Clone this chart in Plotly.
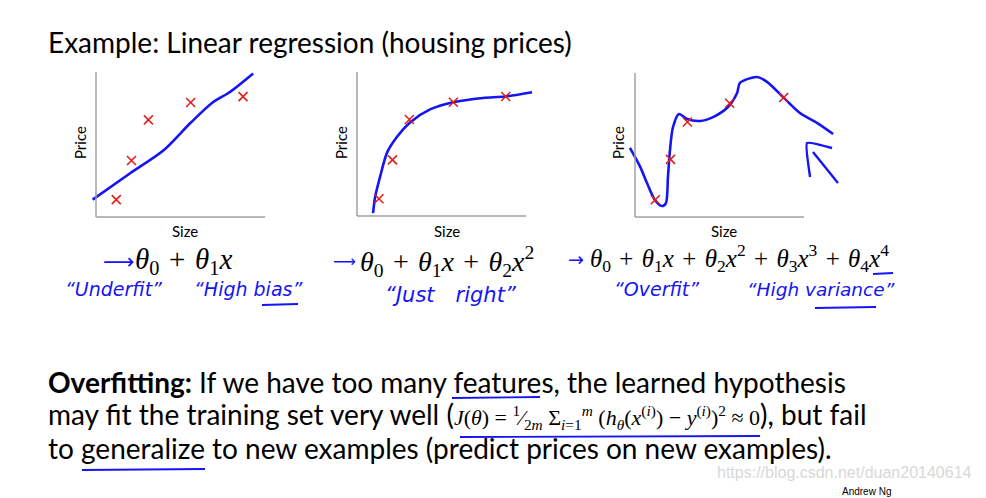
import plotly.graph_objects as go

W, H = 986, 498

# ---------------- data ----------------
# Panel 1: "Underfit"
sizes1 = [12, 21, 31, 56, 87]
prices1 = [12, 39, 67, 79, 83]
fit1_x = [-2, 20, 40, 56, 69, 79, 93]
fit1_y = [12, 30, 46, 65, 79, 86, 99]

# Panel 2: "Just right"
sizes2 = [13, 21, 31, 57, 88]
prices2 = [12, 39, 67, 79, 83]
fit2_x = [9.5, 10.7, 13.6, 17.8, 23.7, 31.4, 43.2, 56.8, 74.6, 87.6, 103.6]
fit2_y = [2, 13, 27, 44, 55, 65, 74, 79, 82, 83, 86]

# Panel 3: "Overfit"
sizes3 = [12, 21, 31, 56, 88]
prices3 = [12, 40, 66, 79, 83]
fit3_x = [-3, 3, 7.1, 11.8, 16, 18.3, 19.5, 20.7, 22.5, 26, 30.8, 38.5, 46.2, 55,
          60.4, 62.1, 72.2, 78.1, 87.6, 97.6, 107.7, 117.2]
fit3_y = [48, 35, 23.6, 11.8, 7.6, 9.7, 27.8, 46.5, 62.5, 71.5, 68.1, 66.7, 69.4, 76.4,
          86.1, 93.1, 97.2, 93.8, 83.3, 72.2, 65.3, 57.6]
arrow_a_x = [116.6, 101.8, 103.6]
arrow_a_y = [47.9, 51.4, 27.8]
arrow_b_x = [105.3, 120.1]
arrow_b_y = [45.1, 23.6]

# Labels
title_text = "Example: Linear regression (housing prices)"
x_label = "Size"
y_label = "Price"

BLUE = "#1414f5"
RED = "#e0201c"
AXIS = "#a0a0a0"
TXT = "Lato"
SERIF = "Liberation Serif"
HAND = "DejaVu Sans"

# panel geometry: origin pixel (ox, oy), px per unit (sx, sy)
panels = [(96, 217, 1.69, 1.45), (357, 216, 1.69, 1.44), (635, 217, 1.69, 1.44)]
XR = (-8, 125)
YR = (-8, 110)

fig = go.Figure()
layout = {}
shapes = []
for i, (ox, oy, sx, sy) in enumerate(panels, start=1):
    sfx = "" if i == 1 else str(i)
    layout["xaxis" + sfx] = dict(
        domain=[(ox + sx * XR[0]) / W, (ox + sx * XR[1]) / W],
        range=list(XR), visible=False, anchor="y" + sfx, fixedrange=True)
    layout["yaxis" + sfx] = dict(
        domain=[1 - (oy - sy * YR[0]) / H, 1 - (oy - sy * YR[1]) / H],
        range=list(YR), visible=False, anchor="x" + sfx, fixedrange=True)
    xr = "x" + sfx
    yr = "y" + sfx
    shapes.append(dict(type="line", xref=xr, yref=yr, x0=0, y0=0, x1=0, y1=100,
                       line=dict(color=AXIS, width=1.5)))
    shapes.append(dict(type="line", xref=xr, yref=yr, x0=0, y0=0, x1=100, y1=0,
                       line=dict(color=AXIS, width=1.5)))

line_style = dict(color=BLUE, width=2.6, shape="spline", smoothing=0.8)
mk = dict(symbol="x-thin", size=9, line=dict(color=RED, width=1.6), color=RED)

for (fx, fy, sx_, py_, ax) in [
        (fit1_x, fit1_y, sizes1, prices1, ("x", "y")),
        (fit2_x, fit2_y, sizes2, prices2, ("x2", "y2")),
        (fit3_x, fit3_y, sizes3, prices3, ("x3", "y3"))]:
    fig.add_trace(go.Scatter(x=fx, y=fy, mode="lines", line=line_style,
                             xaxis=ax[0], yaxis=ax[1], hoverinfo="skip"))
    fig.add_trace(go.Scatter(x=sx_, y=py_, mode="markers", marker=mk,
                             xaxis=ax[0], yaxis=ax[1], cliponaxis=False))

for ax_, ay_ in [(arrow_a_x, arrow_a_y), (arrow_b_x, arrow_b_y)]:
    fig.add_trace(go.Scatter(x=ax_, y=ay_, mode="lines",
                             line=dict(color=BLUE, width=2.4, shape="spline", smoothing=0.4),
                             xaxis="x3", yaxis="y3", hoverinfo="skip"))


def px(x):
    return x / W


def py(y):
    return 1 - y / H


ann = []


def text(x, y, s, size, color="black", family=TXT, xanchor="left", angle=0, yanchor="middle"):
    ann.append(dict(x=px(x), y=py(y), xref="paper", yref="paper", text=s,
                    showarrow=False, xanchor=xanchor, yanchor=yanchor, textangle=angle,
                    font=dict(size=size, color=color, family=family)))


text(46, 42, title_text, 28)

for (lx, ly), (sx0, sy0) in zip([(80, 143), (341, 143), (618, 143)],
                                 [(185, 231), (447, 231), (724, 231)]):
    text(lx, ly, y_label, 15, xanchor="center", angle=-90)
    text(sx0, sy0, x_label, 15, xanchor="center")

# formulas
SP = "\u2004"


def th(k):
    return f"<i>θ</i><sub>{k}</sub>"


plus = f"{SP}+{SP}"
text(101, 261, "⟶", 22, color=BLUE, family="DejaVu Sans")
text(133, 261, th(0) + plus + th(1) + "<i>x</i>", 29, family=SERIF)
text(331, 261, "⟶", 16, color=BLUE, family="DejaVu Sans")
text(358, 261, th(0) + plus + th(1) + "<i>x</i>" + plus + th(2) + "<i>x</i><sup>2</sup>", 28, family=SERIF)
text(566, 259, "→", 19, color=BLUE, family="DejaVu Sans")
text(588, 258, th(0) + plus + th(1) + "<i>x</i>" + plus + th(2) + "<i>x</i><sup>2</sup>" + plus
     + th(3) + "<i>x</i><sup>3</sup>" + plus + th(4) + "<i>x</i><sup>4</sup>", 25, family=SERIF)

# handwritten notes
EM = "\u2003"
text(63, 289, "<i>“Underfit”</i>", 19, color=BLUE, family=HAND)
text(192, 289, "<i>“High bias”</i>", 19, color=BLUE, family=HAND)
text(383, 295, f"<i>“Just{EM}right”</i>", 21, color=BLUE, family=HAND)
text(612, 289, "<i>“Overfit”</i>", 19, color=BLUE, family=HAND)
text(745, 289, "<i>“High variance”</i>", 18.5, color=BLUE, family=HAND)

# paragraph
formula = ("<span style='font-family:Liberation Serif;font-size:22px'>"
           "<i>J</i>(<i>θ</i>) = <sup>1</sup>⁄<sub>2<i>m</i></sub> "
           "Σ<sub><i>i</i>=1</sub><sup><i>m</i></sup> (<i>h</i><sub><i>θ</i></sub>"
           "(<i>x</i><sup>(<i>i</i>)</sup>) − <i>y</i><sup>(<i>i</i>)</sup>)<sup>2</sup> ≈ 0</span>")
text(46, 382, "<b>Overfitting:</b> If we have too many features, the learned hypothesis", 28)
text(46, 415, "may fit the training set very well (" + formula + "), but fail", 28)
text(46, 448, "to generalize to new examples (predict prices on new examples).", 28)

text(974, 472, "https://blog.csdn.net/duan20140614", 16, color="#d8d8d8", family="Liberation Sans", xanchor="right")
text(866, 491, "Andrew Ng", 10, xanchor="center", family="Liberation Sans")

# underlines (handwritten)
for x0, x1, y0 in [(262, 298, 305), (873, 893, 274), (815, 876, 308),
                   (452, 540, 398), (460, 760, 437), (82, 205, 470)]:
    shapes.append(dict(type="line", xref="paper", yref="paper",
                       x0=px(x0), x1=px(x1), y0=py(y0), y1=py(y0 - 1),
                       line=dict(color=BLUE, width=1.8)))

fig.update_layout(**layout)
fig.update_layout(
    width=W, height=H, margin=dict(l=0, r=0, t=0, b=0),
    paper_bgcolor="white", plot_bgcolor="white", showlegend=False,
    shapes=shapes, annotations=ann,
)
fig.write_html("out.html", config={"displayModeBar": False})
